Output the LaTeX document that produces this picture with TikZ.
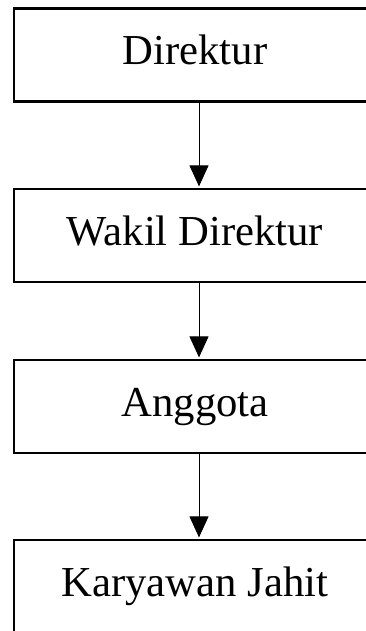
\documentclass[tikz,border=0pt]{standalone}
\usepackage{fontspec}
\setmainfont{Liberation Serif}
\usetikzlibrary{arrows.meta}
\begin{document}
\begin{tikzpicture}[x=1pt,y=1pt,
  orgbox/.style={draw, line width=2.6pt, rectangle, inner sep=0pt,
    minimum width=362pt, text height=56pt, text depth=37pt,
    font=\fontsize{42.7}{50}\selectfont},
  link/.style={line width=0.9pt, -{Triangle[length=21pt,width=19pt]}, shorten >=1.3pt}]
  \useasboundingbox (0,0) rectangle (366,-631);

  \node[orgbox] (dir)   at (195,-55)    {Direktur};
  \node[orgbox] (wakil) at (195,-235.5) {Wakil Direktur};
  \node[orgbox] (ang)   at (195,-406.5) {Anggota};
  \node[orgbox] (kar)   at (195,-586.5) {Karyawan Jahit};

  \coordinate (axis) at (199,0);
  \draw[link] (dir.south -| axis)   -- (wakil.north -| axis);
  \draw[link] (wakil.south -| axis) -- (ang.north -| axis);
  \draw[link] (ang.south -| axis)   -- (kar.north -| axis);
\end{tikzpicture}
\end{document}
